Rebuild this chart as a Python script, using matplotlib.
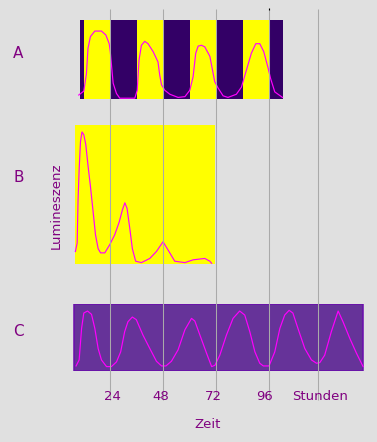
import matplotlib
matplotlib.use("Agg")
import matplotlib.pyplot as plt

# --- data (hours, luminescence 0-100) ---
# panel A: light/dark schedule and luminescence
a_edges = [10.3, 12, 24, 36, 48, 60, 72, 84, 96, 102.1]
a_light = [0, 1, 0, 1, 0, 1, 0, 1, 0]
a_h = [9.7, 12, 13.2, 13.9, 15, 17, 20, 22, 23.5, 24, 24.6, 25.3, 26.8, 28.3,
       35.1, 36.2, 37, 38.1, 39.6, 41.1, 43.4, 45.6, 46.4, 47.2, 48.7, 51,
       54.7, 57.8, 60, 61.5, 62.7, 63.8, 65.3, 66.8, 69.1, 71.3, 72.8, 75.1,
       77.3, 81.1, 83.4, 85.7, 87.9, 89.9, 91.7, 93.5, 95.5, 96.6, 98.5, 102]
a_lum = [5, 10, 32, 64, 79, 86, 86, 81, 70, 60, 41, 20, 7, 1,
         1, 11, 49, 68, 73, 70, 60, 47, 30, 18, 11, 6,
         2, 3, 11, 28, 58, 67, 68, 66, 54, 22, 14, 4,
         2, 6, 15, 37, 58, 70, 70, 60, 39, 26, 9, 2]

# panel B: constant light
b_span = [8.2, 71.3]
b_h = [8.2, 9, 9.4, 9.9, 10.5, 11.2, 12, 12.9, 13.9, 15, 16.2, 17.3, 18.5,
       19.6, 21.5, 23.8, 26, 28, 29.5, 30.6, 31.6, 32.8, 34, 35.5, 38.1,
       41.9, 44.9, 47.9, 50.2, 53.2, 57.8, 61.5, 66.8, 69.1, 69.9]
b_lum = [9, 15, 46, 68, 88, 95, 93, 86, 71, 56, 38, 21, 11,
         8, 8, 14, 21, 30, 39, 44, 40, 26, 11, 2, 1,
         4, 9, 16, 10, 2, 1, 3, 4, 2, 0.5]

# panel C: constant dark
c_span = [7.6, 138.5]
c_h = [8.5, 9.9, 11, 12, 13.7, 15.5, 17, 18.5, 20, 22.3, 24.5, 26.8, 28.7,
       30.5, 32, 34, 35.8, 38.8, 41.9, 44.9, 47.2, 49.2, 51.7, 54.7, 57.8,
       60.8, 62.3, 64.6, 67.6, 69.9, 71.4, 73.6, 76.6, 79.6, 82.6, 84.9,
       87.2, 89.5, 91.7, 93.3, 95.9, 98.5, 100.8, 103, 105, 106.7, 109,
       112.1, 115.1, 117.4, 118.9, 121.1, 124.1, 127.2, 129.4, 132.5,
       135.5, 138.5]
c_lum = [8, 17, 64, 87, 90, 85, 64, 34, 17, 7, 7, 14, 29,
         59, 74, 81, 77, 54, 34, 15, 8, 8, 15, 32, 62,
         79, 75, 54, 27, 7, 9, 24, 54, 79, 90, 84,
         59, 29, 12, 8, 8, 29, 64, 84, 91, 87, 64,
         34, 17, 12, 13, 24, 59, 90, 74, 49,
         27, 7]

grid_h = [24, 48, 72, 96, 118.2]
grid_labels = ["24", "48", "72", "96", "Stunden"]
label_h = [25.1, 46.8, 70.5, 93.9, 119]

W, H = 377, 442
XLIM = (-25.95, 144.8)
bg = "#e0e0e0"
purple = "#800080"
magenta = "#ff00ff"

fig = plt.figure(figsize=(W / 100, H / 100), dpi=100)
fig.patch.set_facecolor(bg)


def panel(top, bottom):
    ax = fig.add_axes([0, 1 - bottom / H, 1, (bottom - top) / H])
    ax.set_xlim(*XLIM)
    ax.set_ylim(0, 100)
    ax.axis("off")
    return ax


# A
ax = panel(20, 99)
for i, lit in enumerate(a_light):
    ax.axvspan(a_edges[i], a_edges[i + 1], color="#ffff00" if lit else "#330066", lw=0)
ax.plot(a_h, a_lum, color=magenta, lw=0.85)

# B
ax = panel(125, 264)
ax.axvspan(*b_span, color="#ffff00", lw=0)
ax.plot(b_h, b_lum, color=magenta, lw=0.85)

# C
ax = panel(304.3, 371.3)
ax.axvspan(*c_span, facecolor="#663399", edgecolor="#6a0dad", lw=1.1)
ax.plot(c_h, c_lum, color=magenta, lw=0.85)

# overlay: grid lines and axis texts (y in pixels)
ov = fig.add_axes([0, 0, 1, 1], zorder=5)
ov.set_xlim(*XLIM)
ov.set_ylim(H, 0)
ov.axis("off")
ov.vlines(grid_h, 9, 400, color="#aaaaaa", lw=0.75)
ov.vlines([96], 7.5, 10, color="black", lw=0.8)
for h, lab in zip(label_h, grid_labels):
    ov.text(h, 396, lab, color=purple, fontsize=9.5, ha="center", va="center")
ov.text(68.1, 424, "Zeit", color=purple, fontsize=9.5, ha="center", va="center")

for lab, y in [("A", 54), ("B", 177), ("C", 331)]:
    fig.text(18.5 / W, 1 - y / H, lab, color=purple, fontsize=11, ha="center", va="center")
fig.text(56 / W, 1 - 205.5 / H, "Lumineszenz", color=purple, fontsize=9.5,
         rotation=90, ha="center", va="center")

fig.savefig("out.png", dpi=100, facecolor=bg)
